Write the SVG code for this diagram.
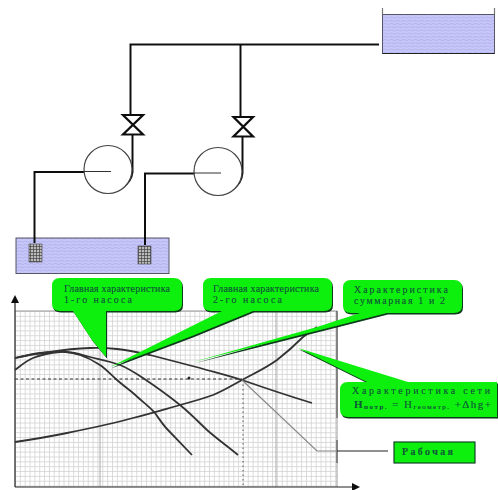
<svg xmlns="http://www.w3.org/2000/svg" width="498" height="490" viewBox="0 0 498 490">
<style>
.pipe{fill:none;stroke:#111;stroke-width:2}
.thin{fill:none;stroke:#333;stroke-width:1}
.curve{fill:none;stroke:#333;stroke-width:1.800}
.tank{fill:url(#water);stroke:#556;stroke-width:1}
.strainer{fill:url(#mesh);stroke:#444;stroke-width:.6}
.valve{fill:#fff;stroke:#111;stroke-width:2.200}
.pump{fill:#fff;stroke:#444;stroke-width:1.200}
.call{fill:#0cf00c}
.shadow{fill:#0a3a1a}
text{font-family:"Liberation Serif","DejaVu Serif",serif;font-size:10px;fill:#0a5a38;stroke:#0a5a38;stroke-width:.2}
</style>
<defs>
<pattern id="water" width="6" height="3.200" patternUnits="userSpaceOnUse">
<rect width="6" height="3.200" fill="#c8c8f8"/>
<path d="M0 1.600Q1.500 .4 3 1.600T6 1.600" fill="none" stroke="#9a9ae8" stroke-width=".6"/>
</pattern>
<pattern id="mesh" width="3" height="3" patternUnits="userSpaceOnUse">
<rect width="3" height="3" fill="#bbb"/>
<path d="M0 .5H3M.5 0V3" stroke="#444" stroke-width=".7"/>
</pattern>
<pattern id="grid" x="15" y="311" width="4.850" height="4.850" patternUnits="userSpaceOnUse">
<path d="M0 .5H4.850M.5 0V4.850" stroke="#d2d2d2" stroke-width=".8"/>
</pattern>
<filter id="soft" x="0" y="0" width="100%" height="100%" filterUnits="userSpaceOnUse"><feGaussianBlur stdDeviation=".5"/></filter>
<marker id="arrow" markerWidth="8" markerHeight="8" refX="1" refY="4" orient="auto" markerUnits="userSpaceOnUse"><path d="M0 0L8 4L0 8Z" fill="#111"/></marker>
</defs>
<rect width="498" height="490" fill="#fff"/>
<g filter="url(#soft)">
<g id="chart">
<rect x="15" y="311" width="322" height="176" fill="url(#grid)"/>
<path d="M15 311H337V487" fill="none" stroke="#999" stroke-width="1"/>
<path d="M100 311V487M276 311V487" fill="none" stroke="#aaa" stroke-width="1"/>
<path d="M337 311V418M337 440V463" fill="none" stroke="#555" stroke-width="1.200"/>
<path d="M15 487V302" fill="none" stroke="#222" stroke-width="1.200" marker-end="url(#arrow)"/>
<path d="M15 487H353" fill="none" stroke="#222" stroke-width="1.200" marker-end="url(#arrow)"/>
<path d="M15 379H242" fill="none" stroke="#333" stroke-width="1" stroke-dasharray="3 2.500"/>
<path d="M243 380V487" fill="none" stroke="#555" stroke-width="1" stroke-dasharray="1.500 3"/>
<circle cx="189" cy="378" r="1.500" fill="#222"/>
<path class="curve" d="M15 370C18 368 25.500 361 33 358C40.500 355 52.200 352.500 60 352C67.800 351.500 73.300 352.800 80 355C86.700 357.200 93.800 360.800 100 365C106.200 369.200 111.500 375.300 117 380C122.500 385 128 388.500 133 393C141 400.500 150 407 155 413C160 420 163 425 168 430L192 455"/>
<path class="curve" d="M15 358C19.200 357.200 31.300 354 40 353C48.700 352 58.700 351.300 67 352C75.300 352.700 81.200 354.800 90 357C98.800 359.200 111.200 361.500 120 365C128.800 368.500 133 371.300 143 378C153 384.700 169.300 396.300 180 405C190 413 198 421.500 207 430C216 438 229 447.500 238 455"/>
<path class="curve" d="M15 358C27 355 38 353.500 50 352C63 350 77 348.500 90 348C99 347.700 108 348 117 349C128 350 139 352.500 150 355C167 359.500 183 363.500 200 368C214 372 228 375.500 242 380C265 388 289 396 312 403"/>
<path class="curve" d="M15 442C32 439.500 50 436.500 67 433C89 428.500 111 424 133 418C149 414 164 409.500 180 405C191 402 202 399 213 395C223 391 232 385.500 242 380C254 373.500 266 368 277 360C286 353 295 345 303 337L317 327"/>
</g>
<g id="tank-upper">
<rect class="tank" x="382.500" y="14.500" width="112" height="39"/>
<path d="M382.500 8V14.500M494.500 8V14.500" fill="none" stroke="#777" stroke-width="1.200"/>
<path d="M382.500 53.500H494.500" fill="none" stroke="#222" stroke-width="1.200"/>
</g>
<g id="tank-lower">
<rect class="tank" x="16" y="238" width="153" height="35.500"/>
</g>
<g id="connectors">
<path class="pipe" d="M379 44.500H130.500V115"/>
<path class="pipe" d="M240.500 44.500V117"/>
<path class="pipe" d="M132.500 135V172C132 178 128 184 122 188"/>
<path class="pipe" d="M242.500 137V173C242 180 238 186 232 190"/>
<path class="pipe" d="M84 172H34.500V243"/>
<path class="pipe" d="M194 173.500H145V245"/>
<path d="M242 380L317 451H337" fill="none" stroke="#888" stroke-width="1.200"/>
<path d="M337 451H388" fill="none" stroke="#222" stroke-width="1.200"/>
</g>
<g id="valve-1"><path class="valve" d="M123 115H143L123 134.500H143Z"/></g>
<g id="valve-2"><path class="valve" d="M233.500 117H253L233.500 136.500H253Z"/></g>
<g id="pump-1">
<circle class="pump" cx="108" cy="169.500" r="24"/>
<path class="thin" d="M84 171.500H111"/>
</g>
<g id="pump-2">
<circle class="pump" cx="218" cy="171.500" r="24"/>
<path class="thin" d="M194 173H221"/>
</g>
<g id="strainer-1"><rect class="strainer" x="29" y="244" width="13" height="18"/></g>
<g id="strainer-2"><rect class="strainer" x="138" y="246" width="13" height="18"/></g>
<g id="callout-1">
<path class="shadow" transform="translate(1 1.500)" d="M60 278H174Q182 278 182 286V304Q182 311 174 311H106V357L92 340L73 311H60Q52 311 52 304V286Q52 278 60 278Z"/>
<path class="call" d="M60 278H174Q182 278 182 286V304Q182 311 174 311H106V357L92 340L73 311H60Q52 311 52 304V286Q52 278 60 278Z"/>
<text x="64" y="292" textLength="106" lengthAdjust="spacing">Главная характеристика</text>
<text x="64" y="303" textLength="68" lengthAdjust="spacing">1-го насоса</text>
</g>
<g id="callout-2">
<path class="shadow" transform="translate(1 1.500)" d="M211 278H324Q332 278 332 286V304Q332 311 324 311H253L192 336L110 367L192 326L222 311H211Q203 311 203 304V286Q203 278 211 278Z"/>
<path class="call" d="M211 278H324Q332 278 332 286V304Q332 311 324 311H253L192 336L110 367L192 326L222 311H211Q203 311 203 304V286Q203 278 211 278Z"/>
<text x="213" y="292" textLength="106" lengthAdjust="spacing">Главная характеристика</text>
<text x="213" y="303" textLength="69" lengthAdjust="spacing">2-го насоса</text>
</g>
<g id="callout-3">
<path class="shadow" transform="translate(1 1.500)" d="M351 280H454Q462 280 462 288V306Q462 313 454 313H387L336 326L193 362L317 327L360 313H351Q343 313 343 306V288Q343 280 351 280Z"/>
<path class="call" d="M351 280H454Q462 280 462 288V306Q462 313 454 313H387L336 326L193 362L317 327L360 313H351Q343 313 343 306V288Q343 280 351 280Z"/>
<text x="354" y="293" textLength="94" lengthAdjust="spacing">Характеристика</text>
<text x="354" y="304" textLength="91" lengthAdjust="spacing">суммарная 1 и 2</text>
</g>
<g id="callout-4">
<path class="shadow" transform="translate(1 1.500)" d="M348 382H367L298 348L408 382H497V417H348Q340 417 340 409V390Q340 382 348 382Z"/>
<path class="call" d="M348 382H367L298 348L408 382H497V417H348Q340 417 340 409V390Q340 382 348 382Z"/>
<text x="352" y="394" textLength="138" lengthAdjust="spacing">Характеристика сети</text>
<text x="354" y="408" textLength="137" lengthAdjust="spacing"><tspan font-weight="bold" font-size="11">Н</tspan><tspan font-weight="bold" font-size="7" dy="1">потр.</tspan><tspan font-size="11" dy="-1"> = Н</tspan><tspan font-size="7" dy="1">геометр.</tspan><tspan font-size="11" dy="-1"> +Δhg+</tspan></text>
</g>
<g id="callout-5">
<rect x="394" y="442" width="81" height="21" fill="#0cf00c" stroke="#17452a" stroke-width="1.200"/>
<text x="402" y="455" font-weight="bold" textLength="51" lengthAdjust="spacing">Рабочая</text>
</g>
</g>
</svg>
